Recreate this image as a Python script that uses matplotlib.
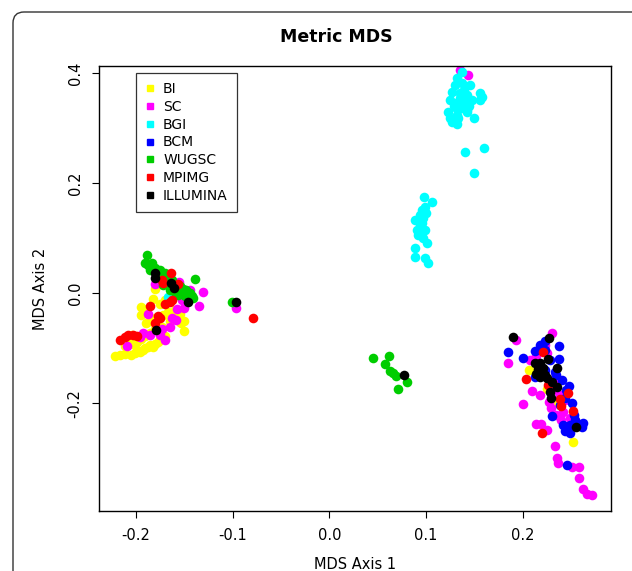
# -*- coding: utf-8 -*-
import matplotlib
matplotlib.use("Agg")
import matplotlib.pyplot as plt
from matplotlib.patches import PathPatch
from matplotlib.path import Path
from matplotlib.lines import Line2D

# -----------------------------
# Datos
# -----------------------------
bi_x = [-0.2216, -0.2164, -0.2113, -0.2050, -0.2010, -0.1989, -0.1958, -0.1927, -0.1906, -0.1876,
        -0.1855, -0.1824, -0.1803, -0.1772, -0.1751, -0.1720, -0.1699, -0.2113, -0.2030, -0.1989,
        -0.1947, -0.1906, -0.2082, -0.2040, -0.1855, -0.1803, -0.1772, -0.1730, -0.1534, -0.1503,
        -0.1668, -0.1720, -0.1927, -0.1947, -0.1803, -0.1855, -0.1823, -0.1750, -0.1700, -0.1600,
        -0.1650, -0.1620, -0.1544, -0.1950, -0.1900, -0.1803, -0.1544, -0.1503,
        0.2070, 0.2520, 0.2250, 0.2330]
bi_y = [-0.115, -0.113, -0.110, -0.112, -0.109, -0.104, -0.107, -0.104, -0.100, -0.098,
        -0.094, -0.098, -0.092, -0.088, -0.085, -0.082, -0.078, -0.096, -0.093, -0.088,
        -0.083, -0.078, -0.080, -0.076, -0.072, -0.065, -0.058, -0.062, -0.055, -0.069,
        -0.035, -0.040, -0.029, -0.025, -0.045, -0.050, -0.010, -0.020, -0.012, -0.030,
        -0.050, -0.040, -0.053, -0.040, -0.055, 0.007, -0.038, -0.050,
        -0.140, -0.271, -0.175, -0.200]

sc_x = [-0.1555, -0.1523, -0.1503, -0.1575, -0.1876, -0.1627, -0.1648, -0.1730, -0.1927, -0.1855,
        -0.1751, -0.2092, -0.1803, -0.1700, -0.1960, -0.1440, -0.1590, -0.1306, -0.1348, -0.0965,
        0.1352, 0.1434,
        0.1932, 0.2303, 0.1848, 0.2096, 0.2003, 0.2293, 0.2138, 0.2190, 0.2252, 0.2334,
        0.2355, 0.2365, 0.2510, 0.2582, 0.2582, 0.2624, 0.2665, 0.2717, 0.2230, 0.2250,
        0.2330, 0.2386, 0.2440, 0.2417, 0.2345, 0.2490, 0.2270, 0.2180, 0.2138, 0.2076,
        0.2360, 0.2400]
sc_y = [0.020, -0.013, -0.027, -0.029, -0.038, -0.045, -0.062, -0.065, -0.073, -0.076,
        -0.076, -0.096, 0.016, -0.085, -0.080, 0.005, -0.049, 0.002, -0.024, -0.027,
        0.405, 0.396,
        -0.085, -0.073, -0.127, -0.178, -0.202, -0.209, -0.238, -0.238, -0.249, -0.278,
        -0.300, -0.309, -0.316, -0.316, -0.336, -0.356, -0.365, -0.367, -0.095, -0.109,
        -0.176, -0.185, -0.195, -0.216, -0.222, -0.227, -0.198, -0.185, -0.115, -0.122,
        -0.160, -0.230]

bgi_x = [0.1372, 0.1320, 0.1372, 0.1455, 0.1300, 0.1269, 0.1352, 0.1424, 0.1558, 0.1579,
         0.1558, 0.1248, 0.1331, 0.1476, 0.1300, 0.1372, 0.1424, 0.1227, 0.1320, 0.1424,
         0.1248, 0.1300, 0.1331, 0.1496, 0.1269, 0.1320, 0.1403, 0.1600, 0.1496, 0.1390,
         0.1410, 0.1350, 0.1290, 0.1450,
         0.0979, 0.1062, 0.0990, 0.0959, 0.0938, 0.0886, 0.0969, 0.0938, 0.0990, 0.0907,
         0.0917, 0.0969, 0.1010, 0.0886, 0.0886, 0.0990, 0.1021, 0.0960, 0.0930, 0.1000,
         -0.1668]
bgi_y = [0.402, 0.391, 0.382, 0.378, 0.378, 0.365, 0.364, 0.360, 0.364, 0.356,
         0.351, 0.351, 0.347, 0.351, 0.338, 0.336, 0.333, 0.329, 0.324, 0.330,
         0.318, 0.311, 0.318, 0.318, 0.311, 0.307, 0.256, 0.264, 0.218, 0.370,
         0.345, 0.355, 0.340, 0.340,
         0.175, 0.165, 0.156, 0.151, 0.142, 0.133, 0.136, 0.124, 0.115, 0.115,
         0.105, 0.100, 0.091, 0.082, 0.065, 0.064, 0.055, 0.128, 0.110, 0.145,
         -0.007]

bcm_x = [0.1848, 0.2003, 0.2375, 0.2375, 0.2127, 0.2479, 0.2510, 0.2531, 0.2303, 0.2417,
         0.2489, 0.2624, 0.2614, 0.2438, 0.2489, 0.2458, 0.2180, 0.2230, 0.2280, 0.2345,
         0.2407, 0.2448, 0.2386, 0.2334, 0.2440, 0.2230, 0.2540, 0.2127, 0.2230]
bcm_y = [-0.107, -0.118, -0.096, -0.120, -0.153, -0.169, -0.200, -0.222, -0.224, -0.240,
         -0.240, -0.236, -0.244, -0.251, -0.255, -0.313, -0.095, -0.104, -0.122, -0.149,
         -0.158, -0.176, -0.204, -0.144, -0.191, -0.140, -0.231, -0.105, -0.087]

wugsc_x = [-0.1888, -0.1906, -0.1876, -0.1834, -0.1803, -0.1751, -0.1699, -0.1772, -0.1668, -0.1627,
           -0.1596, -0.1544, -0.1513, -0.1482, -0.1441, -0.1420, -0.1410, -0.1389, -0.1648, -0.1596,
           -0.1565, -0.1720, -0.1492, -0.1855, -0.1730, -0.1460, -0.1006,
           0.0452, 0.0617, 0.0576, 0.0628, 0.0659, 0.0690, 0.0804, 0.0710]
wugsc_y = [0.069, 0.055, 0.051, 0.055, 0.045, 0.042, 0.036, 0.033, 0.027, 0.024,
           0.016, 0.013, 0.007, 0.005, 0.000, -0.005, -0.009, 0.025, 0.005, 0.002,
           -0.004, 0.015, -0.005, 0.042, 0.024, -0.009, -0.016,
           -0.118, -0.115, -0.129, -0.142, -0.145, -0.151, -0.162, -0.175]

mpimg_x = [-0.1637, -0.1730, -0.1720, -0.1565, -0.1855, -0.1699, -0.1648, -0.1627, -0.1751, -0.1803,
           -0.2113, -0.2082, -0.2030, -0.1989, -0.2164, -0.1770, -0.0789,
           0.2210, 0.2034, 0.2469, 0.2386, 0.2396, 0.2520, 0.2200, 0.2260]
mpimg_y = [0.036, 0.024, 0.018, 0.016, -0.024, -0.020, -0.016, -0.013, -0.045, -0.055,
           -0.080, -0.076, -0.076, -0.078, -0.085, -0.042, -0.045,
           -0.107, -0.156, -0.182, -0.193, -0.205, -0.215, -0.255, -0.167]

illumina_x = [-0.1803, -0.1803, -0.1637, -0.1606, -0.1461, -0.1792, -0.0965, 0.0773,
              0.1900, 0.2272, 0.2262, 0.2127, 0.2179, 0.2158, 0.2210, 0.2355, 0.2179, 0.2252,
              0.2303, 0.2355, 0.2283, 0.2293, 0.2551, 0.2138, 0.2230]
illumina_y = [0.036, 0.027, 0.018, 0.009, -0.016, -0.067, -0.016, -0.149,
              -0.080, -0.082, -0.120, -0.127, -0.127, -0.138, -0.136, -0.136, -0.153, -0.155,
              -0.162, -0.171, -0.180, -0.191, -0.244, -0.147, -0.149]

grupos = ["BI", "SC", "BGI", "BCM", "WUGSC", "MPIMG", "ILLUMINA"]
colores = ["#FFFF00", "#FF00FF", "#00FFFF", "#0000FF", "#00CD00", "#FF0000", "#000000"]
series = [(bi_x, bi_y), (sc_x, sc_y), (bgi_x, bgi_y), (bcm_x, bcm_y),
          (wugsc_x, wugsc_y), (mpimg_x, mpimg_y), (illumina_x, illumina_y)]

# -----------------------------
# Figura
# -----------------------------
plt.rcParams["font.family"] = "DejaVu Sans"
fig = plt.figure(figsize=(6.32, 5.71), dpi=100)
ax = fig.add_axes([0.1573, 0.1051, 0.8088, 0.7793])

for (xs, ys), col in zip(series, colores):
    ax.scatter(xs, ys, s=48, c=col, linewidths=0, zorder=2)

ax.set_xlim(-0.2377, 0.2909)
ax.set_ylim(-0.396, 0.4127)
ax.set_xticks([-0.2, -0.1, 0.0, 0.1, 0.2])
ax.set_xticklabels(["-0.2", "-0.1", "0.0", "0.1", "0.2"])
ax.set_yticks([-0.2, 0.0, 0.2, 0.4])
ax.set_yticklabels(["-0.2", "0.0", "0.2", "0.4"], rotation=90, va="center")
ax.tick_params(direction="out", length=5, width=0.8, labelsize=10.5, pad=7)
for sp in ax.spines.values():
    sp.set_linewidth(1.0)

# titulo centrado como en el original (no sobre el eje)
fig.text(336 / 632, 1 - 37 / 571, "Metric MDS", fontsize=12.5, fontweight="bold",
         ha="center", va="center")
ax.set_xlabel("MDS Axis 1", fontsize=10.5, labelpad=10)
ax.set_ylabel("MDS Axis 2", fontsize=10.5, labelpad=14)

# leyenda con cuadraditos
handles = [Line2D([], [], marker="s", linestyle="none", markersize=5,
                  markerfacecolor=c, markeredgecolor=c) for c in colores]
leg = ax.legend(handles, grupos, loc="upper left", bbox_to_anchor=(0.0716, 0.984),
                fontsize=10, frameon=True, fancybox=False, labelspacing=0.27,
                handlelength=0.7, handletextpad=0.6, borderpad=0.65, borderaxespad=0)
leg.get_frame().set_edgecolor("black")
leg.get_frame().set_linewidth(0.9)

# marco del articulo: solo borde izquierdo y superior con esquina redondeada
W, H = 632, 571
verts = [(13 / W, -0.02), (13 / W, (H - 23) / H), (13 / W, (H - 12) / H),
         (24 / W, (H - 12) / H), (1.02, (H - 12) / H)]
codes = [Path.MOVETO, Path.LINETO, Path.CURVE3, Path.CURVE3, Path.LINETO]
marco = PathPatch(Path(verts, codes), transform=fig.transFigure, fill=False,
                  edgecolor="#333333", linewidth=1.0)
fig.patches.append(marco)

fig.savefig("out.png", dpi=100)
